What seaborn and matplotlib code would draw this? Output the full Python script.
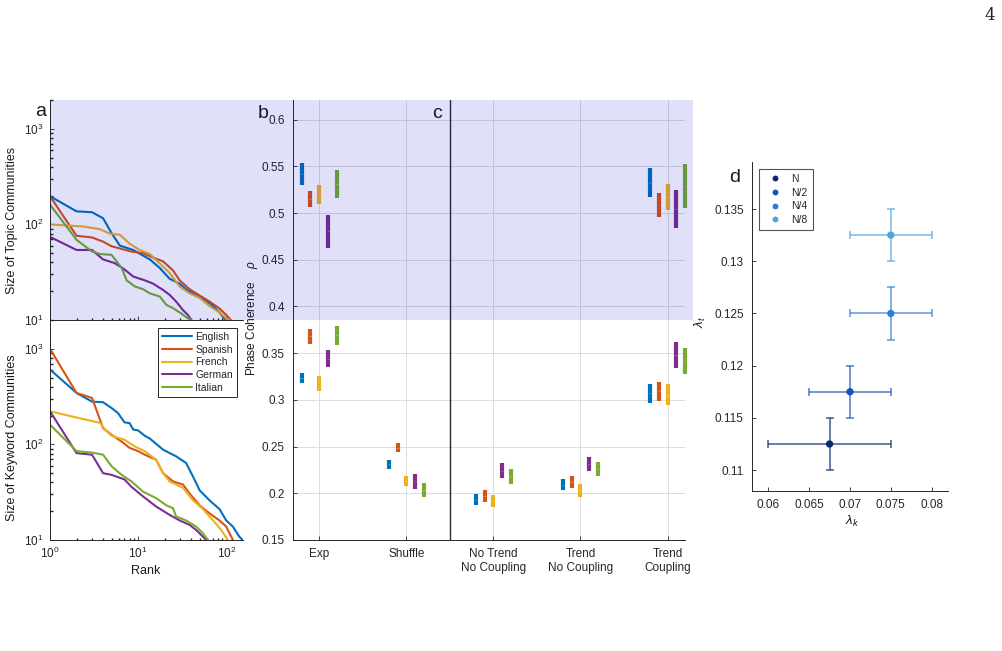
import numpy as np
import pandas as pd
import seaborn as sns
import matplotlib
matplotlib.use('Agg')
import matplotlib.pyplot as plt
from matplotlib.patches import Rectangle
from matplotlib.ticker import FormatStrFormatter, MultipleLocator, NullFormatter

# ---- data -------------------------------------------------------------
langs = ['English', 'Spanish', 'French', 'German', 'Italian']
colors = ['#0072BD', '#D95319', '#EDB120', '#7E2F8E', '#77AC30']

# panel a, topic communities (rank vs size)
topic_rank = {
    'English': [1, 2, 3, 4, 5, 6.2, 8.8, 13.6, 17.6, 22.8, 29.6, 35, 45.7, 59, 71, 84, 96],
    'Spanish': [1, 2, 3, 4, 5, 8.4, 11.4, 14.8, 19.2, 24.9, 29.6, 38.4, 50, 64.6, 84, 100, 113],
    'French': [1, 2.4, 3.7, 4.8, 6.2, 8, 10.4, 13.6, 17.6, 22.8, 29.6, 38.4, 50, 64.6, 84, 100, 109],
    'German': [1, 2, 3, 4, 5.4, 6.8, 8.8, 11.9, 14.8, 19.2, 22.8, 27, 32.3, 36.7, 40],
    'Italian': [1, 2, 3, 3.7, 5, 6.5, 7.4, 9.2, 11.4, 13.6, 17.6, 20.9, 24.9, 30.9, 36.7, 40],
}
topic_size = {
    'English': [197, 137, 134, 116, 81, 60, 54, 43, 35, 27, 24, 21, 18, 16, 14, 12, 10.2],
    'Spanish': [197, 76, 73, 66, 59, 52, 50, 45, 41, 33, 26, 21, 18, 15.6, 13.2, 11.3, 10],
    'French': [100, 95, 89, 80, 78, 63, 54, 49, 39, 31, 22.4, 19, 17, 14, 12, 10.4, 10],
    'German': [74, 54, 54, 43, 39.4, 34.5, 28.5, 26, 24, 20.6, 18.3, 15.6, 12.7, 11.3, 10],
    'Italian': [161, 69, 52, 49, 48, 35, 26, 22.4, 21, 19, 17.6, 14.4, 13.3, 11.7, 10.4, 10],
}

# panel a, keyword communities
kw_rank = {
    'English': [1, 2, 3, 4, 5, 5.9, 7, 8, 8.8, 10, 11.9, 13.6, 19.2, 27, 35, 42, 50, 64.6, 84, 100, 119, 141, 154],
    'Spanish': [1, 2, 3, 4, 5, 6.5, 8, 10, 11.9, 16, 19.2, 24.9, 32.3, 38, 50, 64.6, 84, 100, 119],
    'French': [1, 2.1, 3.7, 4.2, 5, 7, 9.2, 11.9, 16, 19.2, 22.8, 32.3, 42, 54.6, 71, 88, 104],
    'German': [1, 2, 3, 4, 5, 7, 8.4, 11.4, 16, 22.8, 29.6, 38.4, 45.7, 54.6, 59],
    'Italian': [1, 2, 3, 4, 5, 6.5, 8.4, 11.4, 16, 21, 24.9, 27, 35, 45.7, 54.6, 62],
}
kw_size = {
    'English': [607, 345, 280, 276, 240, 213, 170, 167, 143, 140, 123, 115, 88, 75, 64, 46, 33, 26, 21, 16, 13.8, 10.8, 10],
    'Spanish': [1000, 345, 306, 148, 126, 107, 92, 85, 78, 69, 50, 41, 38, 31, 23, 19, 16, 13.8, 10],
    'French': [222, 189, 168, 143, 123, 112, 95, 85, 69, 50, 41, 35, 26, 21, 16, 12.7, 10],
    'German': [222, 81, 78, 50, 48, 43, 36, 28.5, 22.4, 18.3, 16, 14.4, 12.7, 10.8, 10],
    'Italian': [161, 85, 82, 78, 59, 48, 41, 32, 27.4, 23, 21.5, 17.6, 16, 13.8, 11.7, 10],
}

# panel b/c, phase coherence ranges
conditions = ['Exp', 'Shuffle', 'No Trend\nNo Coupling', 'Trend\nNo Coupling', 'Trend\nCoupling']
topic_conditions = ['Exp', 'Trend\nCoupling']
topic_low = {
    'English': [0.530, 0.517], 'Spanish': [0.506, 0.496], 'French': [0.510, 0.503],
    'German': [0.463, 0.484], 'Italian': [0.516, 0.505],
}
topic_high = {
    'English': [0.554, 0.548], 'Spanish': [0.524, 0.521], 'French': [0.530, 0.531],
    'German': [0.4975, 0.525], 'Italian': [0.546, 0.552],
}
kw_low = {
    'English': [0.318, 0.226, 0.1875, 0.203, 0.297],
    'Spanish': [0.360, 0.244, 0.191, 0.206, 0.299],
    'French': [0.310, 0.208, 0.185, 0.196, 0.294],
    'German': [0.335, 0.205, 0.216, 0.224, 0.334],
    'Italian': [0.359, 0.196, 0.210, 0.218, 0.328],
}
kw_high = {
    'English': [0.329, 0.236, 0.199, 0.215, 0.317],
    'Spanish': [0.376, 0.254, 0.204, 0.218, 0.319],
    'French': [0.326, 0.219, 0.198, 0.210, 0.317],
    'German': [0.353, 0.221, 0.232, 0.239, 0.362],
    'Italian': [0.379, 0.211, 0.226, 0.233, 0.355],
}

# panel d
d_labels = ['N', 'N/2', 'N/4', 'N/8']
d_colors = ['#0B2A6E', '#1552BE', '#2F7CD4', '#52A3DE']
lam_k = [0.0675, 0.07, 0.075, 0.075]
lam_k_lo = [0.06, 0.065, 0.07, 0.07]
lam_k_hi = [0.075, 0.075, 0.08, 0.08]
lam_t = [0.1125, 0.1175, 0.125, 0.1325]
lam_t_lo = [0.11, 0.115, 0.1225, 0.13]
lam_t_hi = [0.115, 0.12, 0.1275, 0.135]

# ---- style ------------------------------------------------------------
sns.set_theme(style='ticks', rc={
    'axes.edgecolor': '#262626', 'axes.linewidth': 0.7,
    'xtick.direction': 'in', 'ytick.direction': 'in',
    'xtick.color': '#262626', 'ytick.color': '#262626',
    'xtick.major.size': 3, 'ytick.major.size': 3,
    'xtick.minor.size': 1.8, 'ytick.minor.size': 1.8,
    'xtick.major.width': 0.6, 'ytick.major.width': 0.6,
    'xtick.major.pad': 4.5, 'ytick.major.pad': 4.5,
    'xtick.labelsize': 8.5, 'ytick.labelsize': 8.5,
})
plt.rcParams['font.family'] = ['Liberation Sans', 'DejaVu Sans']
plt.rcParams['mathtext.fontset'] = 'custom'
plt.rcParams['mathtext.rm'] = 'Liberation Sans'
plt.rcParams['mathtext.it'] = 'Liberation Sans:italic'

W, H = 1003, 651
fig = plt.figure(figsize=(W / 100, H / 100), dpi=100)


def px_axes(x0, y0, x1, y1):
    return fig.add_axes([x0 / W, 1 - y1 / H, (x1 - x0) / W, (y1 - y0) / H])


ax_a1 = px_axes(50, 100, 243, 320)
ax_a2 = px_axes(50, 320, 243, 540)
ax_b = px_axes(293, 100, 685, 540)
ax_d = px_axes(752, 162, 948, 491)

# ---- panel a ----------------------------------------------------------
for ax, ranks, sizes, show_leg in [(ax_a1, topic_rank, topic_size, False),
                                   (ax_a2, kw_rank, kw_size, True)]:
    for lang, col in zip(langs, colors):
        df = pd.DataFrame({'rank': ranks[lang], 'size': sizes[lang]})
        sns.lineplot(data=df, x='rank', y='size', color=col, lw=1.5, ax=ax,
                     sort=False, estimator=None, label=lang if show_leg else None,
                     legend=show_leg)
    ax.set_xscale('log')
    ax.set_yscale('log')
    ax.set_xlim(1, 155)
    ax.set_ylim(10, 2000)
    ax.set_xlabel('')
    ax.set_ylabel('')
    ax.patch.set_alpha(0)
    sns.despine(ax=ax)
ax_a1.xaxis.set_major_formatter(NullFormatter())
ax_a1.xaxis.set_minor_formatter(NullFormatter())
leg = ax_a2.legend(loc='upper right', bbox_to_anchor=(0.969, 0.964), borderaxespad=0,
                   fontsize=7.5, handlelength=2.9, frameon=True, fancybox=False,
                   framealpha=1, edgecolor='#262626', borderpad=0.4, labelspacing=0.25,
                   handletextpad=0.3)
leg.get_frame().set_linewidth(0.7)

# ---- panel b/c --------------------------------------------------------
offsets = [-0.2, -0.1, 0.0, 0.1, 0.2]
rows = []
for j, lang in enumerate(langs):
    for c, lo, hi in zip(conditions, kw_low[lang], kw_high[lang]):
        rows.append((lang, c, lo, hi, j))
    for c, lo, hi in zip(topic_conditions, topic_low[lang], topic_high[lang]):
        rows.append((lang, c, lo, hi, j))
bars = pd.DataFrame(rows, columns=['lang', 'cond', 'lo', 'hi', 'j'])
bars['x'] = bars['cond'].map({c: i + 1 for i, c in enumerate(conditions)}) + bars['j'].map(lambda k: offsets[k])
bars['mid'] = (bars['lo'] + bars['hi']) / 2

ax_b.vlines(bars['x'], bars['lo'], bars['hi'], colors=[colors[k] for k in bars['j']],
            lw=3, clip_on=False, zorder=3)
ax_b.hlines(bars['mid'], bars['x'] - 0.015, bars['x'] + 0.015, colors='white',
            lw=0.4, alpha=0.45, clip_on=False, zorder=4)
ax_b.set_xlim(0.7, 5.2)
ax_b.set_ylim(0.15, 0.621)
ax_b.set_xticks(range(1, 6))
ax_b.set_xticklabels(conditions, fontsize=8.5)
ax_b.tick_params(axis='x', pad=6)
ax_b.yaxis.set_major_locator(MultipleLocator(0.05))
ax_b.yaxis.set_major_formatter(FormatStrFormatter('%g'))
ax_b.tick_params(axis='y', pad=6)
ax_b.grid(True, color='#dcdcdc', lw=0.7)
ax_b.set_axisbelow(True)
ax_b.axvline(2.5, color='#2a2a2a', lw=1.0, zorder=2)
ax_b.patch.set_alpha(0)
sns.despine(ax=ax_b)

# ---- panel d ----------------------------------------------------------
for i in range(4):
    ax_d.errorbar(lam_k[i], lam_t[i],
                  xerr=[[lam_k[i] - lam_k_lo[i]], [lam_k_hi[i] - lam_k[i]]],
                  yerr=[[lam_t[i] - lam_t_lo[i]], [lam_t_hi[i] - lam_t[i]]],
                  fmt='none', ecolor=d_colors[i], alpha=0.65, elinewidth=1.3,
                  capsize=3.2, capthick=1.3)
pts = pd.DataFrame({'lk': lam_k, 'lt': lam_t, 'N': d_labels})
sns.scatterplot(data=pts, x='lk', y='lt', hue='N', palette=d_colors, s=28,
                edgecolor='none', ax=ax_d, zorder=4)
sns.move_legend(ax_d, 'upper left', bbox_to_anchor=(0.036, 0.979), borderaxespad=0,
                title=None, fontsize=7.5, frameon=True, fancybox=False, framealpha=1,
                edgecolor='#555555', markerscale=0.8, labelspacing=0.35, handletextpad=0.6,
                borderpad=0.5)
ax_d.get_legend().get_frame().set_linewidth(0.8)
ax_d.set_xlim(0.058, 0.082)
ax_d.set_ylim(0.108, 0.1395)
ax_d.xaxis.set_major_locator(MultipleLocator(0.005))
ax_d.yaxis.set_major_locator(MultipleLocator(0.005))
ax_d.xaxis.set_major_formatter(FormatStrFormatter('%g'))
ax_d.yaxis.set_major_formatter(FormatStrFormatter('%g'))
ax_d.tick_params(pad=6)
ax_d.set_xlabel('')
ax_d.set_ylabel('')
sns.despine(ax=ax_d)

# ---- shading and labels ----------------------------------------------
fig.patches.append(Rectangle((50 / W, 1 - 320 / H), 643 / W, 220 / H, transform=fig.transFigure,
                             facecolor=(0, 0, 0.82), alpha=0.12, edgecolor='none', zorder=5))


def ftext(x, y, s, **kw):
    fig.text(x / W, 1 - y / H, s, ha='center', va='center', color='#1a1a1a', **kw)


ftext(12, 220, 'Size of Topic Communities', rotation=90, fontsize=9)
ftext(12, 438, 'Size of Keyword Communities', rotation=90, fontsize=9)
ftext(146, 571, 'Rank', fontsize=9)
ftext(252, 318, 'Phase Coherence    $\\rho$', rotation=90, fontsize=8.5)
ftext(700, 322, '$\\lambda_t$', rotation=90, fontsize=9.5)
ftext(852, 521, '$\\lambda_k$', fontsize=9.5)
ftext(41, 112, 'a', fontsize=14)
ftext(263, 113, 'b', fontsize=14)
ftext(437, 113, 'c', fontsize=14)
ftext(735, 177, 'd', fontsize=14)
fig.text(990 / W, 1 - 16 / H, '4', ha='center', va='center', fontsize=12,
         family='DejaVu Serif', color='#222222')

fig.savefig('out.png', dpi=100)
